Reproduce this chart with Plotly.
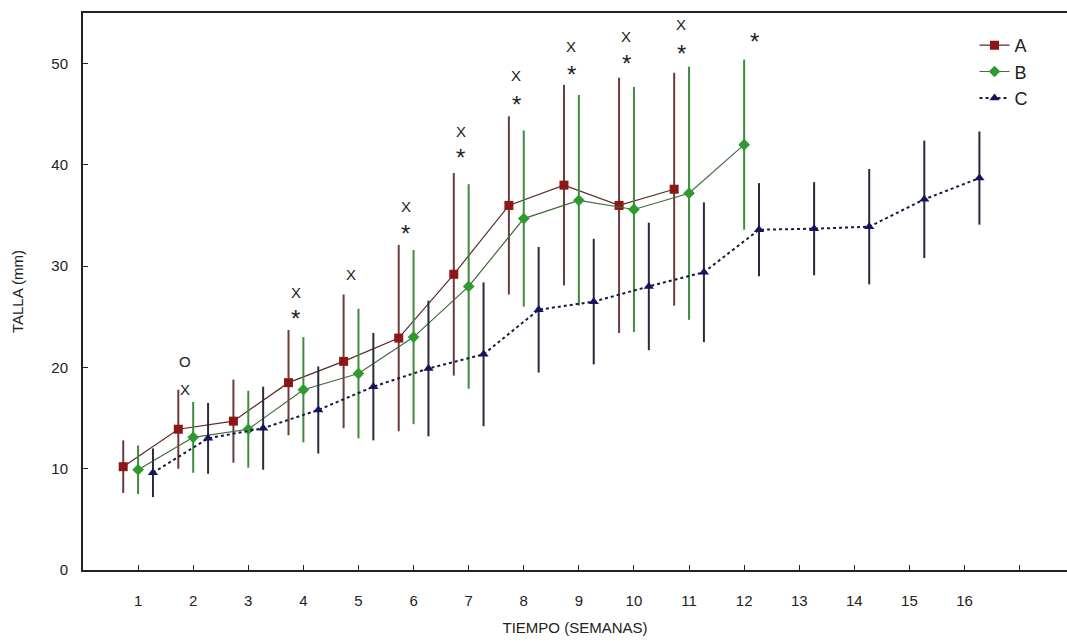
import plotly.graph_objects as go

# Weekly mean size (mm) and standard deviation for each group
weeks_ab = list(range(1, 12))
weeks_b = list(range(1, 13))
weeks_c = list(range(1, 17))

a_mean = [10.2, 13.9, 14.7, 18.5, 20.6, 22.9, 29.2, 36.0, 38.0, 36.0, 37.6]
a_sd = [2.6, 3.9, 4.1, 5.2, 6.6, 9.2, 10.0, 8.8, 9.9, 12.6, 11.5]

b_mean = [9.9, 13.1, 13.9, 17.8, 19.4, 23.0, 28.0, 34.7, 36.5, 35.6, 37.2, 42.0]
b_sd = [2.4, 3.5, 3.8, 5.2, 6.4, 8.6, 10.1, 8.7, 10.4, 12.1, 12.5, 8.4]

c_mean = [9.6, 13.0, 14.0, 15.8, 18.1, 19.9, 21.3, 25.7, 26.5, 28.0, 29.4,
          33.6, 33.7, 33.9, 36.6, 38.7]
c_sd = [2.4, 3.5, 4.1, 4.3, 5.3, 6.7, 7.1, 6.2, 6.2, 6.3, 6.9,
        4.6, 4.6, 5.7, 5.8, 4.6]

# Significance marks above each week (week, symbol, height in mm)
mark_week = [2, 2, 4, 4, 5, 6, 6, 7, 7, 8, 8, 9, 9, 10, 10, 11, 11, 12]
mark_text = ["X", "O", "*", "X", "X", "*", "X", "*", "X", "*", "X",
             "*", "X", "*", "X", "*", "X", "*"]
mark_y = [17.8, 20.6, 25.4, 27.4, 29.2, 33.8, 35.9, 41.3, 43.3, 46.6, 48.8,
          49.5, 51.7, 50.6, 52.7, 51.6, 53.9, 52.8]

x_tick_vals = list(range(1, 18))
x_tick_text = [str(v) for v in range(1, 17)] + [""]
y_tick_vals = [0, 10, 20, 30, 40, 50]

OFFSET = 0.27
FONT = "Liberation Sans, Arial, sans-serif"

fig = go.Figure()

fig.add_trace(go.Scatter(
    x=[w - OFFSET for w in weeks_ab], y=a_mean, name="A",
    mode="lines+markers",
    line=dict(color="#5a2a2a", width=1.2),
    marker=dict(symbol="square", size=9, color="#8e1616"),
    error_y=dict(type="data", array=a_sd, visible=True, width=0,
                 thickness=2, color="#6b3c3c"),
))
fig.add_trace(go.Scatter(
    x=weeks_b, y=b_mean, name="B",
    mode="lines+markers",
    line=dict(color="#3f6b3f", width=1.2),
    marker=dict(symbol="diamond", size=9, color="#2f9a2f"),
    error_y=dict(type="data", array=b_sd, visible=True, width=0,
                 thickness=2, color="#3f8a3f"),
))
fig.add_trace(go.Scatter(
    x=[w + OFFSET for w in weeks_c], y=c_mean, name="C",
    mode="lines+markers",
    line=dict(color="#1a1a40", width=2, dash="dot"),
    marker=dict(symbol="triangle-up", size=9, color="#141460"),
    error_y=dict(type="data", array=c_sd, visible=True, width=0,
                 thickness=2, color="#2a2a3a"),
))

for w, t, yv in zip(mark_week, mark_text, mark_y):
    shift = 0.18 if w == 12 else -0.14
    star = t == "*"
    fig.add_annotation(
        x=w + shift, y=yv, text=t, showarrow=False,
        yshift=-6 if star else 0,
        font=dict(family=FONT, size=24 if star else 15, color="#222222"),
    )

fig.update_layout(
    width=1067, height=641,
    margin=dict(l=83, r=0, t=13, b=71),
    paper_bgcolor="white", plot_bgcolor="white",
    font=dict(family=FONT, size=14, color="#222222"),
    showlegend=True,
    legend=dict(x=0.906, y=0.975, xanchor="left", yanchor="top",
                bgcolor="rgba(0,0,0,0)", font=dict(size=18),
                tracegroupgap=0, itemwidth=30),
    xaxis=dict(
        range=[0, 17.86], tickvals=x_tick_vals, ticktext=x_tick_text,
        ticks="inside", ticklen=5, tickcolor="#222", tickwidth=1,
        showline=True, linecolor="#222", linewidth=2, mirror=True,
        showgrid=False, zeroline=False, ticklabelstandoff=16,
        tickfont=dict(size=15),
        title=dict(text="TIEMPO (SEMANAS)", font=dict(size=15), standoff=14),
    ),
    yaxis=dict(
        range=[0, 55], tickvals=y_tick_vals,
        ticks="inside", ticklen=5, tickcolor="#222", tickwidth=1,
        showline=True, linecolor="#222", linewidth=2,
        showgrid=False, zeroline=False, ticklabelstandoff=10,
        tickfont=dict(size=15),
        title=dict(text="TALLA (mm)", font=dict(size=15), standoff=24),
    ),
)

fig.write_html("out.html")
